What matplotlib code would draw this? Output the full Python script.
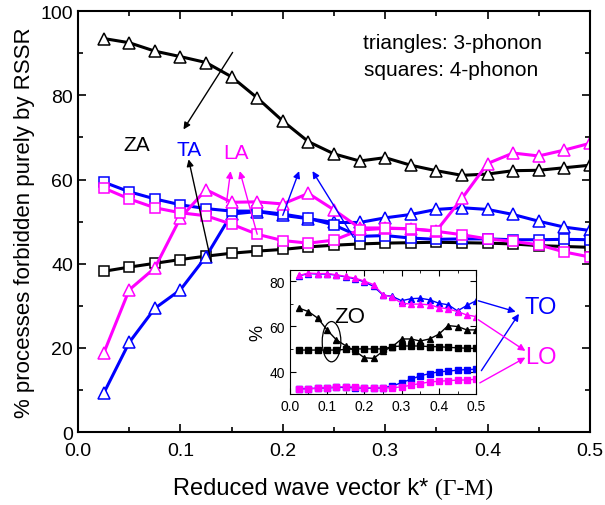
import numpy as np
import matplotlib
matplotlib.use("Agg")
import matplotlib.pyplot as plt
from matplotlib.patches import Ellipse
from matplotlib.offsetbox import TextArea, HPacker, AnnotationBbox

plt.rcParams['font.family'] = ['Liberation Sans', 'DejaVu Sans']

# reduced wave vector k*
k = [0.025, 0.05, 0.075, 0.1, 0.125, 0.15, 0.175, 0.2, 0.225, 0.25,
     0.275, 0.3, 0.325, 0.35, 0.375, 0.4, 0.425, 0.45, 0.475, 0.5]

# main panel: acoustic branches (triangles 3-phonon, squares 4-phonon)
za3 = [93.5, 92.5, 90.5, 89.2, 87.8, 84.4, 79.4, 73.9, 69.0, 66.1,
       64.4, 65.2, 63.4, 62.1, 61.0, 61.3, 62.1, 62.2, 62.8, 63.4]
za4 = [38.2, 39.2, 40.1, 41.0, 41.8, 42.5, 43.0, 43.4, 44.0, 44.4,
       44.7, 44.9, 45.0, 45.1, 45.0, 44.9, 44.7, 44.3, 44.1, 43.9]
ta3 = [9.2, 21.3, 29.4, 33.8, 41.7, 51.8, 52.4, 51.5, 50.7, 49.8,
       49.8, 50.9, 51.7, 52.9, 53.3, 52.9, 51.7, 50.1, 48.7, 47.9]
ta4 = [59.4, 57.1, 55.4, 54.0, 53.1, 52.5, 52.5, 51.8, 50.8, 49.2,
       46.5, 46.7, 46.1, 45.8, 45.9, 45.9, 45.7, 45.7, 45.8, 45.7]
la3 = [18.7, 33.8, 39.0, 50.9, 57.6, 54.6, 54.7, 54.2, 56.7, 52.8,
       48.5, 48.5, 48.3, 47.8, 55.5, 63.8, 66.3, 65.6, 67.0, 68.6]
la4 = [58.0, 55.4, 53.3, 52.1, 51.4, 49.4, 47.0, 45.5, 44.9, 45.6,
       48.0, 48.4, 48.3, 47.7, 46.9, 45.9, 45.3, 44.5, 42.8, 41.6]

# inset: optical branches
zo3 = [68.0, 66.5, 63.6, 58.4, 54.0, 51.4, 49.1, 46.1, 45.8, 49.0,
       51.0, 54.4, 54.4, 53.5, 54.4, 56.5, 60.3, 59.9, 58.4, 58.4]
zo4 = [49.5, 49.5, 49.5, 49.5, 49.5, 49.8, 50.0, 50.0, 50.0, 50.0,
       51.0, 51.3, 51.3, 51.3, 51.0, 51.0, 50.7, 50.5, 50.3, 50.2]
to3 = [82.3, 83.3, 83.1, 83.1, 82.6, 81.8, 81.0, 79.6, 77.6, 73.8,
       73.2, 71.3, 72.2, 72.4, 71.7, 70.2, 69.5, 66.8, 69.2, 71.3]
lo3 = [82.5, 83.5, 83.3, 83.3, 82.8, 82.0, 81.3, 80.0, 78.4, 74.0,
       72.8, 70.2, 69.8, 69.8, 69.5, 68.3, 67.7, 66.5, 65.0, 64.3]
to4 = [32.4, 32.5, 32.6, 32.8, 33.0, 33.0, 32.9, 32.7, 32.7, 32.8,
       33.6, 35.1, 36.6, 38.1, 39.1, 39.9, 40.2, 40.6, 40.9, 41.0]
lo4 = [32.2, 32.4, 32.6, 32.9, 33.2, 33.3, 33.1, 32.9, 32.8, 32.8,
       32.9, 33.2, 34.0, 34.7, 35.4, 35.7, 36.0, 36.2, 36.3, 36.6]

BLUE = '#0000ff'
MAG = '#ff00ff'

fig = plt.figure(figsize=(6.05, 5.06), dpi=100)
ax = fig.add_axes([0.129, 0.144, 0.846, 0.832])

tri = dict(marker='^', markersize=9, markerfacecolor='white', markeredgewidth=1.1, linewidth=2.2)
sq = dict(marker='s', markersize=7.5, markerfacecolor='white', markeredgewidth=1.1, linewidth=2.2)

ax.plot(k, za3, color='black', **tri)
ax.plot(k, za4, color='black', **sq)
ax.plot(k, ta3, color=BLUE, **tri)
ax.plot(k, ta4, color=BLUE, **sq)
ax.plot(k, la3, color=MAG, **tri)
ax.plot(k, la4, color=MAG, **sq)

ax.set_xlim(0, 0.5)
ax.set_ylim(0, 100)
ax.set_xticks(np.arange(0, 0.51, 0.1))
ax.set_xticks(np.arange(0.05, 0.5, 0.1), minor=True)
ax.set_yticks(np.arange(0, 101, 20))
ax.set_yticks(np.arange(10, 100, 20), minor=True)
ax.tick_params(which='both', direction='in', top=True, right=True, width=1.2)
ax.tick_params(which='major', length=6, labelsize=14)
ax.tick_params(axis='x', which='major', pad=7)
ax.tick_params(which='minor', length=3.5)
for s in ax.spines.values():
    s.set_linewidth(1.5)
ax.set_ylabel('% processes forbidden purely by RSSR', fontsize=16, labelpad=4)

# x label: sans text + serif (Γ-M)
lab = HPacker(children=[TextArea('Reduced wave vector k* ', textprops=dict(fontsize=17, family='Liberation Sans')),
                        TextArea('(Γ-M)', textprops=dict(fontsize=17, family='Liberation Serif'))],
              align='baseline', pad=0, sep=0)
fig.add_artist(AnnotationBbox(lab, (0.55, 0.033), xycoords='figure fraction', frameon=False,
                              box_alignment=(0.5, 0.5)))

ax.text(0.366, 92.5, 'triangles: 3-phonon', fontsize=15, ha='center', va='center')
ax.text(0.364, 86.2, 'squares: 4-phonon', fontsize=15, ha='center', va='center')

ax.text(0.0575, 68.3, 'ZA', fontsize=15, ha='center', va='center', color='black')
ax.text(0.108, 67.1, 'TA', fontsize=15, ha='center', va='center', color=BLUE)
ax.text(0.154, 66.4, 'LA', fontsize=15, ha='center', va='center', color=MAG)

def arrow(x0, y0, x1, y1, c):
    ax.annotate('', xy=(x1, y1), xytext=(x0, y0),
                arrowprops=dict(arrowstyle='-|>', color=c, lw=1.0, mutation_scale=10,
                                shrinkA=0, shrinkB=0))

arrow(0.151, 90.2, 0.103, 71.9, 'black')
arrow(0.13, 40.5, 0.108, 64.8, 'black')
arrow(0.145, 54.5, 0.149, 62.0, MAG)
arrow(0.175, 47.0, 0.158, 62.0, MAG)
arrow(0.2, 51.5, 0.216, 62.0, BLUE)
arrow(0.269, 46.3, 0.229, 62.0, BLUE)

ax.text(0.452, 29.8, 'TO', fontsize=17, ha='center', va='center', color=BLUE)
ax.text(0.452, 17.9, 'LO', fontsize=17, ha='center', va='center', color=MAG)
arrow(0.391, 31.2, 0.4275, 28.6, BLUE)
arrow(0.394, 14.6, 0.4307, 28.1, BLUE)
arrow(0.391, 26.7, 0.437, 19.3, MAG)
arrow(0.3925, 11.7, 0.437, 17.7, MAG)

# inset
ins = fig.add_axes([0.479, 0.219, 0.308, 0.246])
itri = dict(marker='^', markersize=5, linewidth=1.0)
isq = dict(marker='s', markersize=4.5, linewidth=1.0)
ins.plot(k, zo4, color='black', **isq)
ins.plot(k, zo3, color='black', **itri)
ins.plot(k, to4, color=BLUE, **isq)
ins.plot(k, lo4, color=MAG, **isq)
ins.plot(k, to3, color=BLUE, **itri)
ins.plot(k, lo3, color=MAG, **itri)
ins.set_xlim(0, 0.5)
ins.set_ylim(30, 85)
ins.set_xticks(np.arange(0, 0.51, 0.1))
ins.set_xticks(np.arange(0.05, 0.5, 0.1), minor=True)
ins.set_yticks([40, 60, 80])
ins.set_yticks([50, 70], minor=True)
ins.tick_params(which='both', direction='in', top=True, right=True, labelsize=10)
ins.tick_params(which='major', length=4)
ins.tick_params(which='minor', length=2.5)
ins.set_ylabel('%', fontsize=13, labelpad=2)
ins.text(0.161, 64.3, 'ZO', fontsize=16, ha='center', va='center')
ins.add_patch(Ellipse((0.112, 53.2), 0.05, 17.8, fill=False, edgecolor='black', lw=0.9))

fig.savefig('out.png', dpi=100)
